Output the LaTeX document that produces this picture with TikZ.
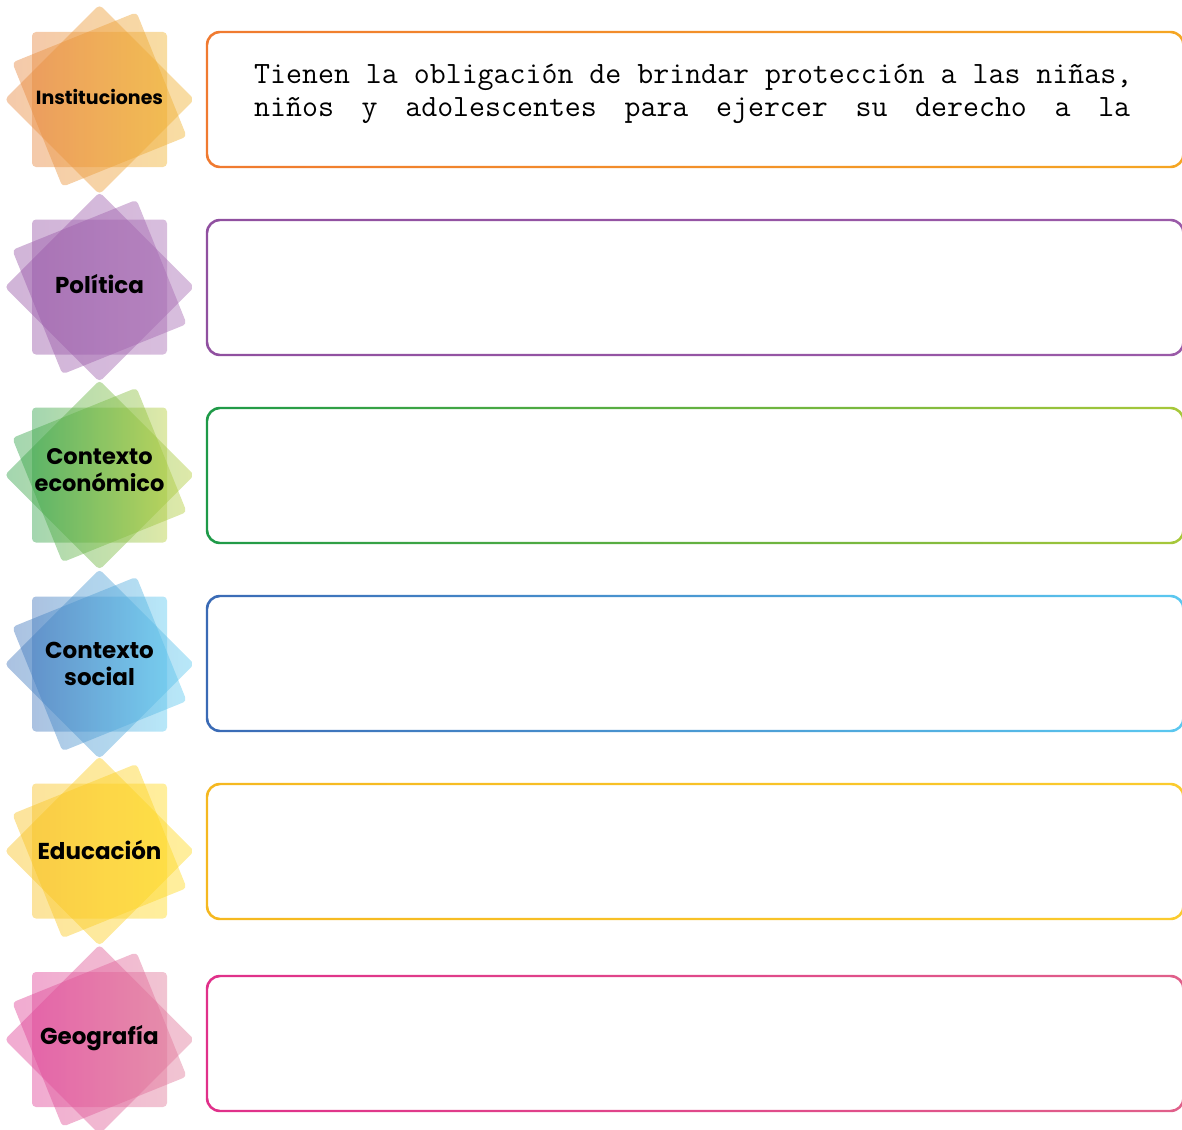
\documentclass[tikz,border=0pt]{standalone}
\usepackage{fontspec}
\newfontfamily\badgefont{Poppins}
\usetikzlibrary{positioning}

% badge colours (left / right of the gradient)
\definecolor{instL}{HTML}{E7853E}
\definecolor{instR}{HTML}{F0B22C}
\definecolor{polL}{HTML}{9655A6}
\definecolor{polR}{HTML}{A66AB2}
\definecolor{ecoL}{HTML}{2EA14A}
\definecolor{ecoR}{HTML}{B5CD3A}
\definecolor{socL}{HTML}{3F73BA}
\definecolor{socR}{HTML}{5CCAF0}
\definecolor{eduL}{HTML}{F8C020}
\definecolor{eduR}{HTML}{FFDA1E}
\definecolor{geoL}{HTML}{DE3F96}
\definecolor{geoR}{HTML}{E07A98}
% frame colours
\definecolor{instA}{HTML}{F07A30}
\definecolor{instB}{HTML}{F5A623}
\definecolor{polA}{HTML}{9050A0}
\definecolor{polB}{HTML}{9A5AA8}
\definecolor{ecoA}{HTML}{1E9A48}
\definecolor{ecoB}{HTML}{A8C83A}
\definecolor{socA}{HTML}{3A6AB5}
\definecolor{socB}{HTML}{5BC8F0}
\definecolor{eduA}{HTML}{F5B820}
\definecolor{eduB}{HTML}{FBCB2E}
\definecolor{geoA}{HTML}{E0308A}
\definecolor{geoB}{HTML}{E0608A}

\tikzset{
	card/.style = {rounded corners=4pt, fill opacity=0.44},
	badge text/.style = {align=center, text=black, inner sep=0pt},
	answer text/.style = {anchor=base west, inner sep=0pt, font=\ttfamily\fontsize{31}{33}\selectfont},
}

% one badge: three overlapping squares
\newcommand{\badge}[2]{%
	\shade[card, left color=#1, right color=#2] (-67.5,-67.5) rectangle (67.5,67.5);
	\shade[card, left color=#1, right color=#2, rotate=45] (-67,-67) rectangle (67,67);
	\shade[card, left color=#1, right color=#2, rotate=22] (-67,-67) rectangle (67,67);
}

% one answer frame, drawn as a shaded ring
\newcommand{\answerbox}[4]{%
	\shade[left color=#3, right color=#4, even odd rule]
		[rounded corners=14pt] (205.8,#1-1.2) rectangle (1184.7,#2+1.2)
		[rounded corners=12pt] (208.2,#1+1.2) rectangle (1182.3,#2-1.2);
}

\begin{document}
\begin{tikzpicture}[x=1pt, y=-1pt]

	\useasboundingbox (0,0) rectangle (1182,1129);

	\foreach \y/\dy/\lc/\rc/\name/\fs/\txt in {
			99.5/-3/instL/instR/inst/19/Instituciones,
			287/-3/polL/polR/pol/23/Política,
			475/-5/ecoL/ecoR/eco/22.5/{Contexto\\económico},
			664/0/socL/socR/soc/23/{Contexto\\social},
			851/-1/eduL/eduR/edu/23/Educación,
			1039.5/-1.5/geoL/geoR/geo/23/Geografía}
	{
		\begin{scope}[shift={(99.5,\y)}]
			\badge{\lc}{\rc}
			\node [badge text, font=\badgefont\bfseries\fontsize{\fs}{27}\selectfont] (\name) at (0,\dy) {\txt};
		\end{scope}
	}

	\answerbox{32}{167}{instA}{instB}
	\answerbox{220}{355}{polA}{polB}
	\answerbox{408}{543}{ecoA}{ecoB}
	\answerbox{596}{731}{socA}{socB}
	\answerbox{784}{919}{eduA}{eduB}
	\answerbox{976}{1111}{geoA}{geoB}

	\node [answer text] (line1) at (254,83.5)
		{Tienen la obligación de brindar protección a las niñas,};
	\node [answer text] (line2) at (254,116.5)
		{\hbox to 876pt{niños\hfill y\hfill adolescentes\hfill para\hfill ejercer\hfill su\hfill derecho\hfill a\hfill la}};

\end{tikzpicture}
\end{document}
